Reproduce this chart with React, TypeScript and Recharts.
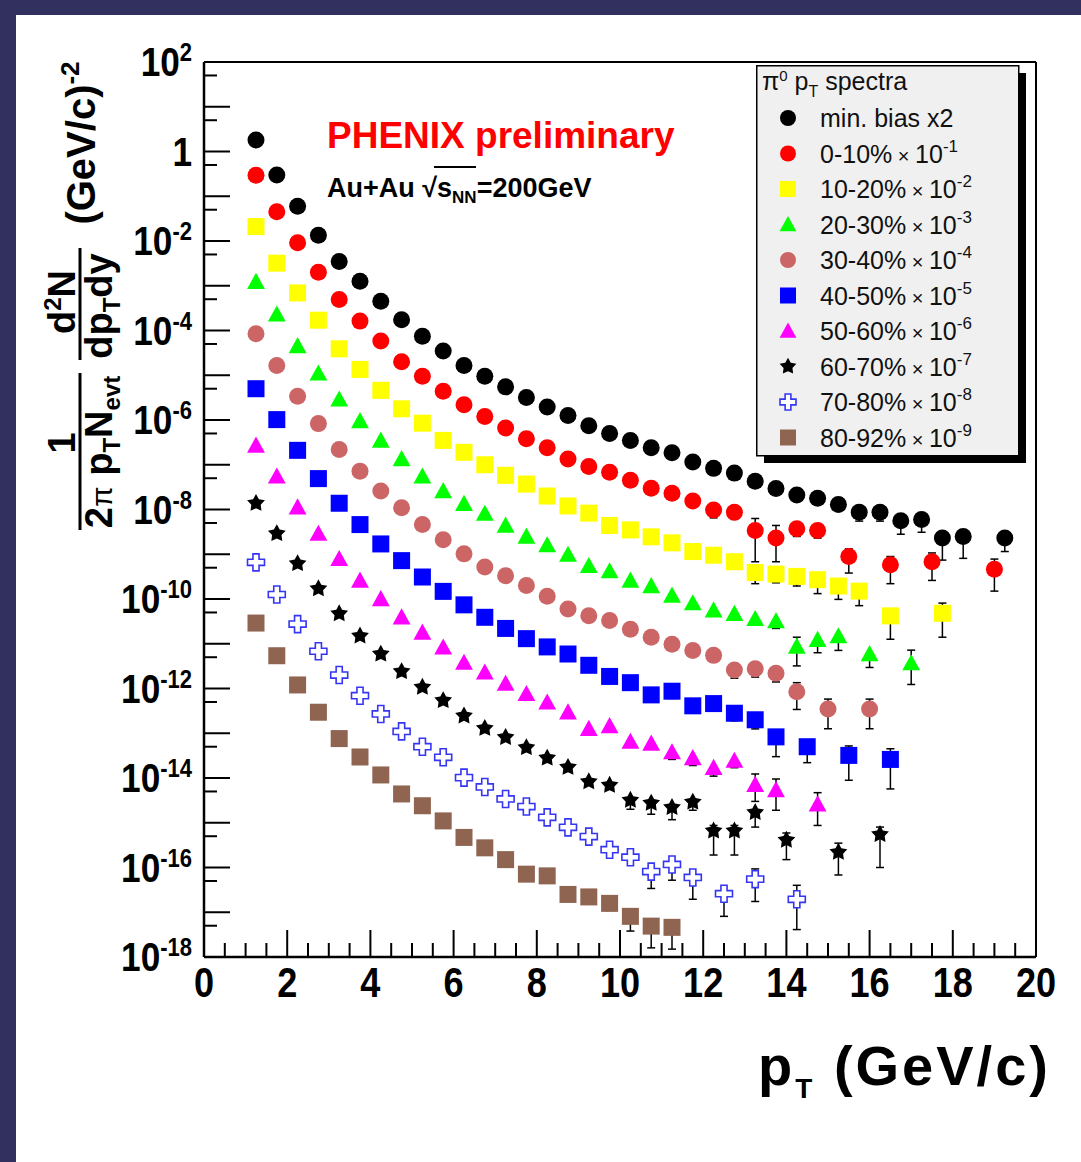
import React from "react";
import { ScatterChart, Scatter, XAxis, YAxis, ErrorBar, ReferenceLine, Legend } from "recharts";

// [pT, yield, lower end of error bar?, upper end of error bar?]
type Pt = [number, number, number?, number?];

const minBias: Pt[] = [
  [1.25, 1.8], [1.75, 3.0e-1], [2.25, 6.0e-2], [2.75, 1.35e-2], [3.25, 3.5e-3], [3.75, 1.26e-3],
  [4.25, 4.5e-4], [4.75, 1.74e-4], [5.25, 7.4e-5], [5.75, 3.5e-5], [6.25, 1.66e-5], [6.75, 9.5e-6],
  [7.25, 5.5e-6], [7.75, 3.2e-6], [8.25, 1.95e-6], [8.75, 1.26e-6], [9.25, 7.4e-7], [9.75, 5.0e-7],
  [10.25, 3.5e-7], [10.75, 2.4e-7], [11.25, 1.86e-7], [11.75, 1.15e-7], [12.25, 8.3e-8], [12.75, 6.5e-8],
  [13.25, 4.3e-8], [13.75, 2.95e-8], [14.25, 2.1e-8], [14.75, 1.78e-8], [15.25, 1.29e-8],
  [15.75, 8.7e-9, 5.5e-9], [16.25, 8.7e-9, 5.5e-9], [16.75, 5.6e-9, 2.8e-9], [17.25, 6.0e-9, 3.1e-9],
  [17.75, 2.3e-9, 7.4e-10], [18.25, 2.5e-9, 8.1e-10], [19.25, 2.3e-9, 1.15e-9],
];

const cent0010: Pt[] = [
  [1.25, 2.95e-1], [1.75, 4.5e-2], [2.25, 9.1e-3], [2.75, 2.0e-3], [3.25, 4.9e-4], [3.75, 1.62e-4],
  [4.25, 5.8e-5], [4.75, 2.0e-5], [5.25, 9.5e-6], [5.75, 4.4e-6], [6.25, 2.2e-6], [6.75, 1.2e-6],
  [7.25, 6.6e-7], [7.75, 3.8e-7], [8.25, 2.4e-7], [8.75, 1.35e-7], [9.25, 9.1e-8], [9.75, 6.8e-8],
  [10.25, 4.5e-8], [10.75, 3.0e-8], [11.25, 2.3e-8], [11.75, 1.55e-8], [12.25, 9.8e-9, 6.5e-9],
  [12.75, 8.7e-9, 6.0e-9], [13.25, 3.4e-9, 6.8e-10, 6.3e-9], [13.75, 2.3e-9, 6.8e-10, 4.4e-9],
  [14.25, 3.7e-9, 2.5e-9], [14.75, 3.4e-9, 2.3e-9], [15.5, 8.9e-10, 3.8e-10, 1.32e-9],
  [16.5, 5.8e-10, 2.2e-10, 8.9e-10], [17.5, 6.8e-10, 2.6e-10, 1.07e-9], [19.0, 4.6e-10, 1.5e-10, 7.8e-10],
];

const cent1020: Pt[] = [
  [1.25, 2.1e-2], [1.75, 3.2e-3], [2.25, 6.9e-4], [2.75, 1.7e-4], [3.25, 3.9e-5], [3.75, 1.35e-5],
  [4.25, 4.6e-6], [4.75, 1.78e-6], [5.25, 8.5e-7], [5.75, 3.5e-7], [6.25, 1.9e-7], [6.75, 1.0e-7],
  [7.25, 5.8e-8], [7.75, 3.7e-8], [8.25, 2.0e-8], [8.75, 1.2e-8], [9.25, 8.3e-9], [9.75, 4.4e-9],
  [10.25, 3.5e-9], [10.75, 2.45e-9], [11.25, 1.8e-9], [11.75, 1.15e-9, 8.5e-10], [12.25, 9.5e-10, 7.0e-10],
  [12.75, 6.8e-10, 4.8e-10], [13.25, 3.9e-10, 2.2e-10], [13.75, 3.6e-10, 2.3e-10], [14.25, 3.2e-10, 1.95e-10],
  [14.75, 2.7e-10, 1.32e-10], [15.25, 1.95e-10, 9.8e-11], [15.75, 1.5e-10, 7.1e-11],
  [16.5, 4.2e-11, 1.26e-11], [17.75, 4.8e-11, 1.4e-11, 8.1e-11],
];

const cent2030: Pt[] = [
  [1.25, 1.23e-3], [1.75, 2.3e-4], [2.25, 4.5e-5], [2.75, 1.1e-5], [3.25, 2.9e-6], [3.75, 9.5e-7],
  [4.25, 3.5e-7], [4.75, 1.35e-7], [5.25, 5.5e-8], [5.75, 2.6e-8], [6.25, 1.35e-8], [6.75, 8.1e-9],
  [7.25, 4.4e-9], [7.75, 2.5e-9], [8.25, 1.6e-9], [8.75, 9.8e-10], [9.25, 5.5e-10], [9.75, 4.2e-10],
  [10.25, 2.6e-10], [10.75, 1.95e-10], [11.25, 1.2e-10], [11.75, 8.1e-11], [12.25, 5.6e-11], [12.75, 4.7e-11],
  [13.25, 3.6e-11], [13.75, 3.2e-11, 2.2e-11], [14.25, 8.7e-12, 3.2e-12, 1.4e-11], [14.75, 1.23e-11, 6.3e-12],
  [15.25, 1.48e-11, 7.1e-12], [16.0, 5.9e-12, 2.95e-12], [17.0, 3.7e-12, 1.23e-12, 7.2e-12],
];

const cent3040: Pt[] = [
  [1.25, 8.5e-5], [1.75, 1.66e-5], [2.25, 3.4e-6], [2.75, 8.3e-7], [3.25, 2.2e-7], [3.75, 7.2e-8],
  [4.25, 2.6e-8], [4.75, 1.1e-8], [5.25, 4.6e-9], [5.75, 2.1e-9], [6.25, 1.02e-9], [6.75, 5.2e-10],
  [7.25, 3.3e-10], [7.75, 2.0e-10], [8.25, 1.15e-10], [8.75, 6.0e-11], [9.25, 4.2e-11], [9.75, 3.3e-11],
  [10.25, 2.1e-11], [10.75, 1.4e-11], [11.25, 9.8e-12], [11.75, 7.1e-12], [12.25, 5.5e-12],
  [12.75, 2.6e-12, 1.7e-12], [13.25, 2.75e-12, 1.8e-12], [13.75, 2.2e-12, 1.4e-12],
  [14.25, 8.5e-13, 3.4e-13, 1.35e-12], [15.0, 3.5e-13, 1.26e-13, 5.8e-13], [16.0, 3.5e-13, 1.26e-13, 5.8e-13],
];

const cent4050: Pt[] = [
  [1.25, 5.0e-6], [1.75, 1.02e-6], [2.25, 2.1e-7], [2.75, 4.9e-8], [3.25, 1.38e-8], [3.75, 4.6e-9],
  [4.25, 1.7e-9], [4.75, 7.2e-10], [5.25, 3.1e-10], [5.75, 1.48e-10], [6.25, 7.4e-11], [6.75, 3.9e-11],
  [7.25, 2.2e-11], [7.75, 1.3e-11], [8.25, 8.5e-12], [8.75, 5.9e-12], [9.25, 3.3e-12], [9.75, 1.86e-12],
  [10.25, 1.35e-12], [10.75, 7.2e-13], [11.25, 8.7e-13, 6.0e-13], [11.75, 4.1e-13, 2.9e-13],
  [12.25, 4.6e-13, 3.2e-13], [12.75, 2.8e-13, 1.9e-13], [13.25, 2.0e-13, 1.25e-13], [13.75, 8.3e-14, 3.0e-14],
  [14.5, 5.0e-14, 2.2e-14], [15.5, 3.2e-14, 8.9e-15, 5.2e-14], [16.5, 2.6e-14, 5.7e-15, 4.5e-14],
];

const cent5060: Pt[] = [
  [1.25, 2.7e-7], [1.75, 5.5e-8], [2.25, 1.12e-8], [2.75, 2.9e-9], [3.25, 7.9e-10], [3.75, 2.6e-10],
  [4.25, 1.0e-10], [4.75, 3.9e-11], [5.25, 1.78e-11], [5.75, 8.3e-12], [6.25, 3.8e-12], [6.75, 2.3e-12],
  [7.25, 1.29e-12], [7.75, 7.6e-13], [8.25, 4.9e-13], [8.75, 2.95e-13], [9.25, 1.26e-13], [9.75, 1.45e-13],
  [10.25, 6.5e-14], [10.75, 5.9e-14], [11.25, 3.8e-14, 2.6e-14], [11.75, 2.8e-14, 1.9e-14],
  [12.25, 1.7e-14, 1.1e-14], [12.75, 2.45e-14, 1.7e-14], [13.25, 7.1e-15, 3.0e-15, 1.23e-14],
  [13.75, 5.4e-15, 1.9e-15, 9.5e-15], [14.75, 2.6e-15, 8.7e-16, 4.7e-15],
];

const cent6070: Pt[] = [
  [1.25, 1.38e-8], [1.75, 2.9e-9], [2.25, 6.2e-10], [2.75, 1.7e-10], [3.25, 4.7e-11], [3.75, 1.5e-11],
  [4.25, 5.9e-12], [4.75, 2.4e-12], [5.25, 1.07e-12], [5.75, 5.4e-13], [6.25, 2.45e-13], [6.75, 1.29e-13],
  [7.25, 8.1e-14], [7.75, 4.8e-14], [8.25, 2.8e-14], [8.75, 1.74e-14], [9.25, 8.3e-15], [9.75, 6.9e-15],
  [10.25, 3.2e-15, 2.0e-15], [10.75, 2.75e-15, 1.55e-15], [11.25, 2.2e-15, 1.17e-15], [11.75, 2.9e-15, 1.9e-15],
  [12.25, 6.6e-16, 1.9e-16, 8.7e-16], [12.75, 6.6e-16, 1.9e-16, 8.7e-16], [13.25, 1.7e-15, 8.0e-16],
  [14.0, 4.1e-16, 1.5e-16, 5.9e-16], [15.25, 2.2e-16, 6.8e-17, 3.5e-16], [16.25, 5.5e-16, 1.0e-16, 8.0e-16],
];

const cent7080: Pt[] = [
  [1.25, 6.6e-10], [1.75, 1.26e-10], [2.25, 2.75e-11], [2.75, 6.8e-12], [3.25, 2.0e-12], [3.75, 6.9e-13],
  [4.25, 2.7e-13], [4.75, 1.1e-13], [5.25, 5.0e-14], [5.75, 2.9e-14], [6.25, 1.02e-14], [6.75, 6.3e-15],
  [7.25, 3.4e-15], [7.75, 2.3e-15], [8.25, 1.32e-15], [8.75, 7.9e-16], [9.25, 4.9e-16], [9.75, 2.5e-16],
  [10.25, 1.7e-16], [10.75, 8.1e-17, 3.4e-17], [11.25, 1.17e-16, 5.2e-17], [11.75, 6.0e-17, 1.95e-17],
  [12.5, 2.6e-17, 8.1e-18], [13.25, 5.5e-17, 1.74e-17, 9.3e-17], [14.25, 1.95e-17, 4.1e-18, 4.0e-17],
];

const cent8092: Pt[] = [
  [1.25, 2.9e-11], [1.75, 5.4e-12], [2.25, 1.2e-12], [2.75, 2.95e-13], [3.25, 7.6e-14], [3.75, 2.95e-14],
  [4.25, 1.17e-14], [4.75, 4.4e-15], [5.25, 2.4e-15], [5.75, 1.1e-15], [6.25, 4.7e-16], [6.75, 2.75e-16],
  [7.25, 1.5e-16], [7.75, 7.1e-17], [8.25, 6.5e-17], [8.75, 2.5e-17], [9.25, 2.2e-17],
  [9.75, 1.58e-17, 1.1e-17], [10.25, 8.1e-18, 3.8e-18], [10.75, 4.9e-18, 1.6e-18], [11.25, 4.6e-18, 1.5e-18],
];

const seriesNames = ["min. bias x2", "0-10%", "10-20%", "20-30%", "30-40%", "40-50%", "50-60%", "60-70%", "70-80%", "80-92%"];
const seriesExponents = [null, -1, -2, -3, -4, -5, -6, -7, -8, -9];
const seriesPoints = [minBias, cent0010, cent1020, cent2030, cent3040, cent4050, cent5060, cent6070, cent7080, cent8092];
const seriesMarkers = ["circle", "circle", "square", "triangle", "circle", "square", "triangle", "star", "cross", "square"];
const seriesColors = ["#000000", "#ff0000", "#ffff00", "#00ff00", "#cc6666", "#0000ff", "#ff00ff", "#000000", "#3636f2", "#8f6552"];

const xMajorLabels = [0, 2, 4, 6, 8, 10, 12, 14, 16, 18, 20];
const xTicks = Array.from({ length: 41 }, (_, i) => i * 0.5);
// a long tick on every decade, a short one at 5 x 10^(n-1)
const yDecades = Array.from({ length: 21 }, (_, i) => 2 - i);
const yTicks = yDecades.flatMap((e) => (e > -18 ? [Math.pow(10, e), 5 * Math.pow(10, e - 1)] : [Math.pow(10, e)]));

const FONT = "'Liberation Sans', Arial, Helvetica, sans-serif";

const series = seriesNames.map((name, i) => ({
  name,
  exp: seriesExponents[i],
  kind: seriesMarkers[i],
  color: seriesColors[i],
  rows: seriesPoints[i].map(([x, y, lo, hi]) => ({
    x,
    y,
    err: lo === undefined ? undefined : [y - lo, hi === undefined ? 0 : hi - y],
  })),
}));

function Marker({ kind, cx, cy, color, r = 8.5 }: { kind: string; cx: number; cy: number; color: string; r?: number }) {
  if (kind === "square") {
    return <rect x={cx - r} y={cy - r} width={2 * r} height={2 * r} fill={color} />;
  }
  if (kind === "triangle") {
    const pts = `${cx},${cy - r * 1.05} ${cx + r * 1.05},${cy + r * 0.85} ${cx - r * 1.05},${cy + r * 0.85}`;
    return <polygon points={pts} fill={color} />;
  }
  if (kind === "star") {
    const pts = Array.from({ length: 10 }, (_, k) => {
      const rad = k % 2 === 0 ? r * 1.1 : r * 0.58;
      const a = -Math.PI / 2 + (k * Math.PI) / 5;
      return `${cx + rad * Math.cos(a)},${cy + rad * Math.sin(a)}`;
    }).join(" ");
    return <polygon points={pts} fill={color} />;
  }
  if (kind === "cross") {
    const a = r * 0.36;
    const d = [
      [-a, -r], [a, -r], [a, -a], [r, -a], [r, a], [a, a], [a, r], [-a, r], [-a, a], [-r, a], [-r, -a], [-a, -a],
    ].map(([px, py]) => `${cx + px},${cy + py}`).join(" ");
    return <polygon points={d} fill="#ffffff" stroke={color} strokeWidth={1.6} />;
  }
  return <circle cx={cx} cy={cy} r={r} fill={color} />;
}

function XTick({ x, y, payload }: any) {
  const v = payload.value;
  const major = xMajorLabels.includes(v);
  return (
    <g>
      <line x1={x} y1={y} x2={x} y2={y - (major ? 27 : 14)} stroke="#000" strokeWidth={2} />
      {major && (
        <text
          transform={`translate(${x},${y + 40}) scale(0.86,1)`}
          textAnchor="middle"
          fontFamily={FONT}
          fontWeight="bold"
          fontSize={42}
          fill="#000"
        >
          {v}
        </text>
      )}
    </g>
  );
}

function YTick({ x, y, payload }: any) {
  const lg = Math.log10(payload.value);
  const e = Math.round(lg);
  const decade = Math.abs(lg - e) < 1e-6;
  return (
    <g>
      <line x1={x} y1={y} x2={x + (decade ? 26 : 13)} y2={y} stroke="#000" strokeWidth={2} />
      {decade && e % 2 === 0 && (
        <text
          transform={`translate(${x - 12},${y + 14}) scale(0.88,1)`}
          textAnchor="end"
          fontFamily={FONT}
          fontWeight="bold"
          fontSize={40}
          fill="#000"
        >
          {e === 0 ? "1" : "10"}
          {e !== 0 && (
            <tspan dy={-15} fontSize={25}>
              {e}
            </tspan>
          )}
        </text>
      )}
    </g>
  );
}

function LegendBox() {
  return (
    <svg width={275} height={402} style={{ display: "block" }}>
      <rect x={8} y={8} width={262} height={390} fill="#000" />
      <rect x={0.75} y={0.75} width={262} height={390} fill="#f0f0f0" stroke="#000" strokeWidth={1.5} />
      <text x={6} y={25} fontFamily={FONT} fontSize={25} fill="#111">
        π<tspan dy={-9} fontSize={15}>0</tspan>
        <tspan dy={9}> p</tspan>
        <tspan dy={7} fontSize={16}>T</tspan>
        <tspan dy={-7}> spectra</tspan>
      </text>
      {series.map((s, i) => {
        const cy = 53 + i * 35.5;
        return (
          <g key={s.name}>
            <Marker kind={s.kind} cx={32} cy={cy} color={s.color} r={8} />
            <text x={64} y={cy + 9} fontFamily={FONT} fontSize={25} fill="#111">
              {s.name}
              {s.exp !== null && (
                <>
                  <tspan fontSize={20}> × </tspan>
                  <tspan>10</tspan>
                  <tspan dy={-11} fontSize={17}>
                    {s.exp}
                  </tspan>
                </>
              )}
            </text>
          </g>
        );
      })}
    </svg>
  );
}

// axis titles and the experiment tag
function Labels() {
  const title = { fontFamily: FONT, fontWeight: "bold" as const, fill: "#000" };
  return (
    <svg width={1081} height={1162} style={{ position: "absolute", left: 0, top: 0, pointerEvents: "none" }}>
      <text x={327} y={148} {...title} fill="#ff0000" fontSize={37}>
        PHENIX preliminary
      </text>
      <text x={327} y={197} {...title} fontSize={27}>
        Au+Au √s<tspan dy={6} fontSize={17}>NN</tspan>
        <tspan dy={-6}>=200GeV</tspan>
      </text>
      <line x1={434} y1={167} x2={476} y2={167} stroke="#000" strokeWidth={2} />

      <text transform="translate(75,302) rotate(-90)" textAnchor="middle" {...title} fontSize={38}>
        d<tspan dy={-14} fontSize={24}>2</tspan>
        <tspan dy={14}>N</tspan>
      </text>
      <line x1={80} y1={248} x2={80} y2={360} stroke="#000" strokeWidth={3} />
      <text transform="translate(112,306) rotate(-90)" textAnchor="middle" {...title} fontSize={38}>
        dp<tspan dy={8} fontSize={24}>T</tspan>
        <tspan dy={-8}>dy</tspan>
      </text>
      <text transform="translate(75,443) rotate(-90)" textAnchor="middle" {...title} fontSize={38}>
        1
      </text>
      <line x1={80} y1={373} x2={80} y2={530} stroke="#000" strokeWidth={3} />
      <text transform="translate(112,452) rotate(-90)" textAnchor="middle" {...title} fontSize={38}>
        2<tspan fontWeight="normal" fontSize={30}>π</tspan> p<tspan dy={8} fontSize={24}>T</tspan>
        <tspan dy={-8}>N</tspan>
        <tspan dy={8} fontSize={24}>evt</tspan>
      </text>
      <text transform="translate(95,143) rotate(-90)" textAnchor="middle" {...title} fontSize={40}>
        (GeV/c)<tspan dy={-16} fontSize={26}>-2</tspan>
      </text>

      <text x={758} y={1085} {...title} fontSize={56} letterSpacing={3}>
        p<tspan dy={13} fontSize={28}>T</tspan>
        <tspan dy={-13}> (GeV/c)</tspan>
      </text>
    </svg>
  );
}

export default function App() {
  return (
    <div style={{ position: "absolute", left: 0, top: 0, width: 1081, height: 1162, background: "#32305f" }}>
      <div style={{ position: "absolute", left: 16, top: 15, right: 0, bottom: 0, background: "#ffffff" }} />
      <div style={{ position: "absolute", left: 0, top: 0 }}>
        <ScatterChart width={1081} height={1162} margin={{ top: 62, right: 45, bottom: 145, left: 144 }}>
          <XAxis
            type="number"
            dataKey="x"
            domain={[0, 20]}
            ticks={xTicks}
            interval={0}
            allowDataOverflow
            height={60}
            tickSize={0}
            tickMargin={0}
            tickLine={false}
            axisLine={{ stroke: "#000", strokeWidth: 2.5 }}
            tick={(p: any) => <XTick {...p} />}
          />
          <YAxis
            type="number"
            dataKey="y"
            scale="log"
            domain={[1e-18, 100]}
            ticks={yTicks}
            interval={0}
            allowDataOverflow
            width={60}
            tickSize={0}
            tickMargin={0}
            tickLine={false}
            axisLine={{ stroke: "#000", strokeWidth: 2.5 }}
            tick={(p: any) => <YTick {...p} />}
          />
          <ReferenceLine y={100} stroke="#000" strokeWidth={2} />
          <ReferenceLine x={20} stroke="#000" strokeWidth={2} />
          {series.map((s) => (
            <Scatter
              key={s.name}
              name={s.name}
              data={s.rows}
              isAnimationActive={false}
              shape={(p: any) => <Marker kind={s.kind} cx={p.cx} cy={p.cy} color={s.color} />}
            >
              <ErrorBar dataKey="err" direction="y" width={4} stroke="#000" strokeWidth={1.5} isAnimationActive={false} />
            </Scatter>
          ))}
          <Legend
            layout="vertical"
            align="center"
            verticalAlign="middle"
            content={() => <LegendBox />}
            wrapperStyle={{ position: "absolute", left: 756, top: 65, width: 275, height: 402 }}
          />
        </ScatterChart>
      </div>
      <Labels />
    </div>
  );
}
